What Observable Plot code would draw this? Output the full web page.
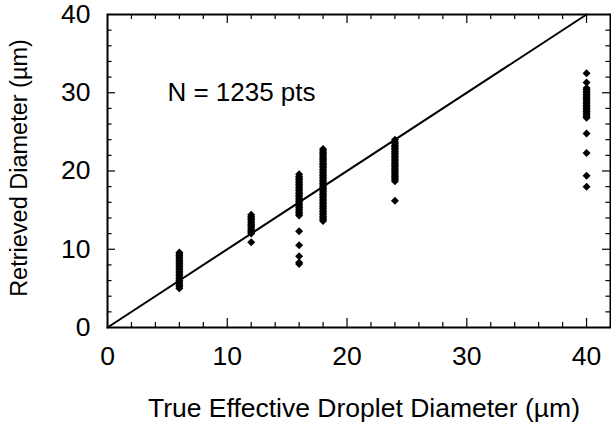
<!DOCTYPE html>
<html><head><meta charset="utf-8">
<script src="https://cdn.jsdelivr.net/npm/d3@7"></script>
<script src="https://cdn.jsdelivr.net/npm/@observablehq/plot@0.6"></script>
<style>body{margin:0;background:#fff}</style>
</head><body><div id="chart"></div>
<script>
// Cluster x positions (true effective droplet diameter, µm)
const xCenters = [6, 12, 16, 18, 24, 40];
// Retrieved diameters for each cluster
const y6  = [5.0,5.2,5.4,5.6,5.8,6.0,6.2,6.4,6.6,6.8,7.0,7.2,7.4,7.6,7.8,8.0,8.2,8.4,8.6,8.8,9.0,9.2,9.4,9.6];
const y12 = [10.9,12.0,12.2,12.4,12.6,12.8,13.0,13.2,13.4,13.6,13.8,14.0,14.2,14.4];
const y16 = [8.1,8.3,9.1,10.5,12.3,14.3,14.5,14.7,14.9,15.1,15.3,15.5,15.7,15.9,16.1,16.3,16.5,16.7,16.9,17.1,17.3,17.5,17.7,17.9,18.1,18.3,18.5,18.7,18.9,19.1,19.3,19.6];
const y18 = [13.6,13.8,14.0,14.2,14.4,14.6,14.8,15.0,15.2,15.4,15.6,15.8,16.0,16.2,16.4,16.6,16.8,17.0,17.2,17.4,17.6,17.8,18.0,18.2,18.4,18.6,18.8,19.0,19.2,19.4,19.6,19.8,20.0,20.2,20.4,20.6,20.8,21.0,21.2,21.4,21.6,21.8,22.0,22.2,22.4,22.6,22.8];
const y24 = [16.2,18.7,18.9,19.1,19.3,19.5,19.7,19.9,20.1,20.3,20.5,20.7,20.9,21.1,21.3,21.5,21.7,21.9,22.1,22.3,22.5,22.7,22.9,23.1,23.3,23.5,23.7,24.0];
const y40 = [18.0,19.4,22.3,24.8,26.8,27.0,27.2,27.4,27.6,27.8,28.0,28.2,28.4,28.6,28.8,29.0,29.2,29.4,29.6,29.8,30.0,30.2,30.4,30.6,31.3,32.5];
const yClusters = [y6, y12, y16, y18, y24, y40];

// One-to-one reference line
const lineX = [0, 40];
const lineY = [0, 40];

// Ticks and labels
const xLabels = [0, 10, 20, 30, 40];
const yLabels = [0, 10, 20, 30, 40];
const xMajor = [10, 20, 30, 40];
const xMinor = [2, 4, 6, 8, 12, 14, 16, 18, 22, 24, 26, 28, 32, 34, 36, 38];
const yMajor = [10, 20, 30];
const yMinor = [2, 4, 6, 8, 12, 14, 16, 18, 22, 24, 26, 28, 32, 34, 36, 38];

const xTitle = "True Effective Droplet Diameter (µm)";
const yTitle = "Retrieved Diameter (µm)";
const note = "N = 1235 pts";

const points = xCenters.flatMap((x, i) => yClusters[i].map(y => ({x, y})));
const diag = lineX.map((x, i) => ({x, y: lineY[i]}));

const XMAX = 42, YMAX = 40;
// tick lengths in data units
const xMajLen = 1.15, xMinLen = 0.64; // vertical ticks on x axes (y units)
const yMajLen = 0.67, yMinLen = 0.38; // horizontal ticks on y axes (x units)

const chart = Plot.plot({
  width: 611, height: 425,
  marginLeft: 107, marginRight: 1, marginTop: 14, marginBottom: 98,
  x: {domain: [0, XMAX]},
  y: {domain: [0, YMAX]},
  style: {fontFamily: "'Liberation Sans', Arial, Helvetica, sans-serif", background: "white", color: "black"},
  marks: [
    Plot.axisX({ticks: xLabels, tickSize: 0, tickPadding: 19, fontSize: 26.5, label: null}),
    Plot.axisY({ticks: yLabels, tickSize: 0, tickPadding: 17, fontSize: 26.5, label: null}),
    // bottom ticks
    Plot.ruleX(xMajor, {y1: 0, y2: xMajLen, stroke: "black", strokeWidth: 1.2}),
    Plot.ruleX(xMinor, {y1: 0, y2: xMinLen, stroke: "black", strokeWidth: 1.2}),
    // top ticks
    Plot.ruleX(xMajor, {y1: YMAX, y2: YMAX - xMajLen, stroke: "black", strokeWidth: 1.2}),
    Plot.ruleX(xMinor, {y1: YMAX, y2: YMAX - xMinLen, stroke: "black", strokeWidth: 1.2}),
    // left ticks
    Plot.ruleY(yMajor, {x1: 0, x2: yMajLen, stroke: "black", strokeWidth: 1.2}),
    Plot.ruleY(yMinor, {x1: 0, x2: yMinLen, stroke: "black", strokeWidth: 1.2}),
    // right ticks
    Plot.ruleY(yMajor, {x1: XMAX, x2: XMAX - yMajLen, stroke: "black", strokeWidth: 1.2}),
    Plot.ruleY(yMinor, {x1: XMAX, x2: XMAX - yMinLen, stroke: "black", strokeWidth: 1.2}),
    Plot.line(diag, {x: "x", y: "y", stroke: "black", strokeWidth: 2}),
    Plot.dot(points, {x: "x", y: "y", symbol: "diamond2", r: 3.6, fill: "black", stroke: "none"}),
    Plot.text([note], {x: 5, y: 30, text: d => d, textAnchor: "start", fontSize: 26, fill: "black"}),
    Plot.text([xTitle], {frameAnchor: "bottom", dx: 5, dy: 89, text: d => d, textAnchor: "middle", fontSize: 26.5, fill: "black"}),
    Plot.text([yTitle], {frameAnchor: "left", dx: -88, dy: -3, rotate: -90, text: d => d, textAnchor: "middle", fontSize: 23.5, fill: "black"}),
    Plot.frame({stroke: "black", strokeWidth: 2})
  ]
});
document.getElementById("chart").appendChild(chart);
</script>
</body></html>
